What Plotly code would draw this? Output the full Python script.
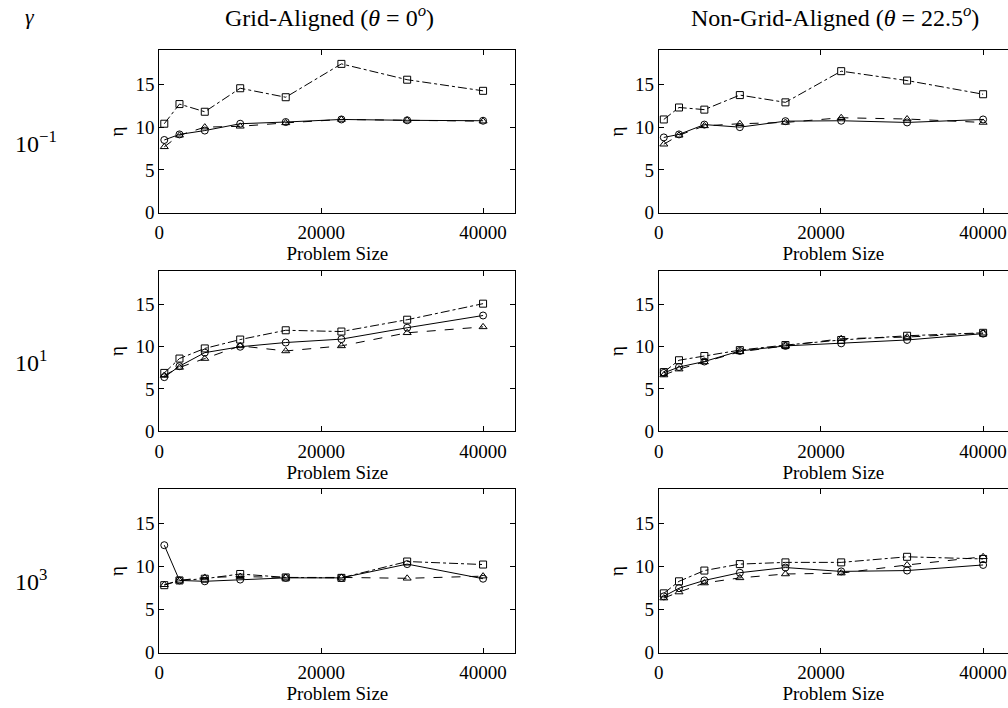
import plotly.graph_objects as go

# ---- data ----
problem_size = [625, 2500, 5625, 10000, 15625, 22500, 30625, 40000]

# rows: gamma = 1e-1, 1e1, 1e3 ; columns: grid-aligned, non-grid-aligned
circ = {
    (0, 0): [8.5, 9.15, 9.6, 10.4, 10.6, 10.9, 10.8, 10.75],
    (0, 1): [8.8, 9.15, 10.3, 10.0, 10.7, 10.75, 10.55, 10.9],
    (1, 0): [6.4, 7.7, 9.3, 10.0, 10.5, 10.9, 12.25, 13.7],
    (1, 1): [6.9, 7.6, 8.25, 9.5, 10.1, 10.4, 10.8, 11.55],
    (2, 0): [12.5, 8.4, 8.3, 8.5, 8.7, 8.7, 10.3, 8.6],
    (2, 1): [6.55, 7.5, 8.4, 9.3, 9.9, 9.45, 9.55, 10.2],
}
tri = {
    (0, 0): [7.7, 9.05, 10.0, 10.1, 10.5, 10.9, 10.8, 10.7],
    (0, 1): [8.0, 9.05, 10.15, 10.4, 10.55, 11.1, 10.95, 10.55],
    (1, 0): [6.6, 7.55, 8.6, 10.1, 9.5, 10.1, 11.65, 12.35],
    (1, 1): [6.65, 7.35, 8.2, 9.4, 10.1, 10.95, 11.15, 11.6],
    (2, 0): [7.9, 8.4, 8.75, 8.85, 8.75, 8.75, 8.65, 8.9],
    (2, 1): [6.35, 7.05, 8.1, 8.7, 9.15, 9.25, 10.2, 11.15],
}
sq = {
    (0, 0): [10.4, 12.7, 11.8, 14.55, 13.5, 17.4, 15.55, 14.25],
    (0, 1): [10.9, 12.3, 12.05, 13.75, 12.9, 16.55, 15.45, 13.85],
    (1, 0): [6.9, 8.6, 9.8, 10.85, 11.95, 11.8, 13.2, 15.1],
    (1, 1): [7.0, 8.4, 8.9, 9.6, 10.2, 10.8, 11.3, 11.65],
    (2, 0): [7.85, 8.4, 8.6, 9.15, 8.75, 8.7, 10.6, 10.25],
    (2, 1): [6.9, 8.3, 9.55, 10.3, 10.5, 10.5, 11.15, 10.9],
}

col_titles = ["Grid-Aligned (<i>θ</i>\u00a0=\u00a00<sup><i>o</i></sup>)",
              "Non-Grid-Aligned (<i>θ</i>\u00a0=\u00a022.5<sup><i>o</i></sup>)"]
row_labels = ["10<sup>−1</sup>", "10<sup>1</sup>", "10<sup>3</sup>"]
x_ticks = [0, 20000, 40000]
y_ticks = [0, 5, 10, 15]

W, H = 1008, 708
FONT = "Liberation Serif"

col_px = [(155, 513), (657, 1008)]
col_xmax = [44000, 43070]
row_px = [(51, 216), (275, 438), (497, 663)]

fig = go.Figure()

series = [
    (circ, "circle-open", "solid"),
    (tri, "triangle-up-open", "dash"),
    (sq, "square-open", "dashdot"),
]

layout = {}
idx = 0
for r in range(3):
    for c in range(2):
        idx += 1
        xa = "x" if idx == 1 else f"x{idx}"
        ya = "y" if idx == 1 else f"y{idx}"
        for data, sym, dash in series:
            fig.add_trace(go.Scatter(
                x=problem_size, y=data[(r, c)], xaxis=xa, yaxis=ya,
                mode="lines+markers",
                line=dict(color="black", width=1, dash=dash),
                marker=dict(symbol=sym, size=7, color="black",
                            line=dict(color="black", width=1)),
                showlegend=False, cliponaxis=False,
            ))
        x0, x1 = col_px[c]
        y0, y1 = row_px[r]
        common = dict(showline=True, linecolor="black", linewidth=1,
                      ticks="inside", ticklen=5, tickcolor="black",
                      showgrid=False, zeroline=False,
                      tickfont=dict(family=FONT, size=19, color="black"))
        layout["xaxis" if idx == 1 else f"xaxis{idx}"] = dict(
            domain=[x0 / W, x1 / W], range=[0, col_xmax[c]],
            anchor=ya, tickvals=x_ticks, ticktext=[str(v) for v in x_ticks],
            mirror="ticks", ticklabelstandoff=3,
            title=dict(text="Problem Size", standoff=0,
                       font=dict(family=FONT, size=19, color="black")),
            **common)
        layout["yaxis" if idx == 1 else f"yaxis{idx}"] = dict(
            domain=[1 - y1 / H, 1 - y0 / H], range=[0, 19],
            anchor=xa, tickvals=y_ticks, ticktext=[str(v) for v in y_ticks],
            mirror="ticks" if c == 0 else False,
            title=dict(text="η", standoff=6,
                       font=dict(family=FONT, size=19, color="black")),
            **common)

fig.update_layout(**layout)

ann = []
ann.append(dict(text="<i>γ</i>", x=25 / W, y=1 - 17 / H, xref="paper", yref="paper",
                xanchor="center", yanchor="middle",
                showarrow=False, font=dict(family=FONT, size=22, color="black")))
for c, t in enumerate(col_titles):
    cx = [326, 834][c]
    ann.append(dict(text=t, x=cx / W, y=1 - 16 / H, xref="paper", yref="paper",
                    xanchor="center", yanchor="middle",
                    showarrow=False, font=dict(family=FONT, size=24, color="black")))
for r, t in enumerate(row_labels):
    cy = [144, 367, 589][r]
    ann.append(dict(text=t, x=8 / W, y=1 - cy / H, xref="paper", yref="paper",
                    xanchor="left", yanchor="middle", showarrow=False,
                    font=dict(family=FONT, size=24, color="black")))

fig.update_layout(
    width=W, height=H, margin=dict(l=0, r=0, t=0, b=0),
    paper_bgcolor="white", plot_bgcolor="white",
    annotations=ann, showlegend=False,
)

fig.write_html("out.html", config={"displayModeBar": False},
               post_script="document.body.style.margin='0';document.body.style.overflow='hidden';")
